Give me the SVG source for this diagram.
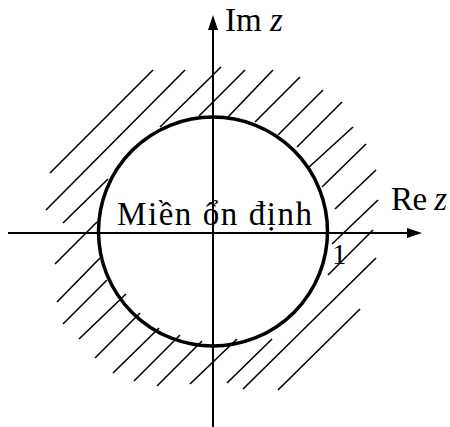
<svg xmlns="http://www.w3.org/2000/svg" width="450" height="427" viewBox="0 0 450 427">
<defs>
<style>
.axis{stroke:#000;stroke-width:2;fill:none}
.hatch{stroke:#000;stroke-width:1.6;fill:none}
.circ{stroke:#000;stroke-width:3.5;fill:none}
.lbl{font-family:"Liberation Serif","Times New Roman",serif;font-size:33px;fill:#000}
.it{font-style:italic}
</style>
<marker id="arr" markerUnits="userSpaceOnUse" markerWidth="15" markerHeight="10" refX="2" refY="5" orient="auto">
<path d="M0,0 L15,5 L0,10 z" fill="#000"/>
</marker>
</defs>
<rect width="450" height="427" fill="#fff"/>
<g id="hatching">
<line class="hatch" x1="50" y1="173" x2="153" y2="70"/>
<line class="hatch" x1="46" y1="210" x2="185" y2="70"/>
<line class="hatch" x1="160" y1="127" x2="221" y2="67"/>
<line class="hatch" x1="199" y1="116" x2="245" y2="70"/>
<line class="hatch" x1="63" y1="223" x2="108" y2="179"/>
<line class="hatch" x1="228" y1="117" x2="273" y2="70"/>
<line class="hatch" x1="255" y1="122" x2="300" y2="77"/>
<line class="hatch" x1="278" y1="135" x2="323" y2="90"/>
<line class="hatch" x1="297" y1="147" x2="342" y2="102"/>
<line class="hatch" x1="308" y1="168" x2="353" y2="127"/>
<line class="hatch" x1="322" y1="187" x2="366" y2="144"/>
<line class="hatch" x1="335" y1="209" x2="376" y2="170"/>
<line class="hatch" x1="332" y1="244" x2="378" y2="200"/>
<line class="hatch" x1="328" y1="275" x2="373" y2="230"/>
<line class="hatch" x1="243" y1="389" x2="376" y2="258"/>
<line class="hatch" x1="278" y1="390" x2="360" y2="309"/>
<line class="hatch" x1="227" y1="383" x2="272" y2="339"/>
<line class="hatch" x1="55" y1="264" x2="97" y2="222"/>
<line class="hatch" x1="57" y1="302" x2="100" y2="258"/>
<line class="hatch" x1="63" y1="324" x2="107" y2="280"/>
<line class="hatch" x1="79" y1="339" x2="126" y2="294"/>
<line class="hatch" x1="95" y1="358" x2="140" y2="313"/>
<line class="hatch" x1="113" y1="373" x2="159" y2="328"/>
<line class="hatch" x1="134" y1="381" x2="180" y2="335"/>
<line class="hatch" x1="157" y1="386" x2="202" y2="341"/>
<line class="hatch" x1="190" y1="384" x2="237" y2="339"/>
</g>
<g id="connectors">
<line class="axis" x1="8" y1="233" x2="409" y2="233" marker-end="url(#arr)"/>
<line class="axis" x1="213" y1="427" x2="213" y2="28" marker-end="url(#arr)"/>
</g>
<g id="unit-circle">
<circle class="circ" cx="213" cy="231.5" r="114.5"/>
</g>
<g id="label-im">
<text class="lbl" x="225" y="31">Im <tspan class="it">z</tspan></text>
</g>
<g id="label-re">
<text class="lbl" x="391" y="210" textLength="56" lengthAdjust="spacing">Re <tspan class="it">z</tspan></text>
</g>
<g id="label-region">
<text class="lbl" x="117" y="225" textLength="195" lengthAdjust="spacing">Miền ổn định</text>
</g>
<g id="label-one">
<text class="lbl" x="332" y="264" style="font-size:29px">1</text>
</g>
</svg>
